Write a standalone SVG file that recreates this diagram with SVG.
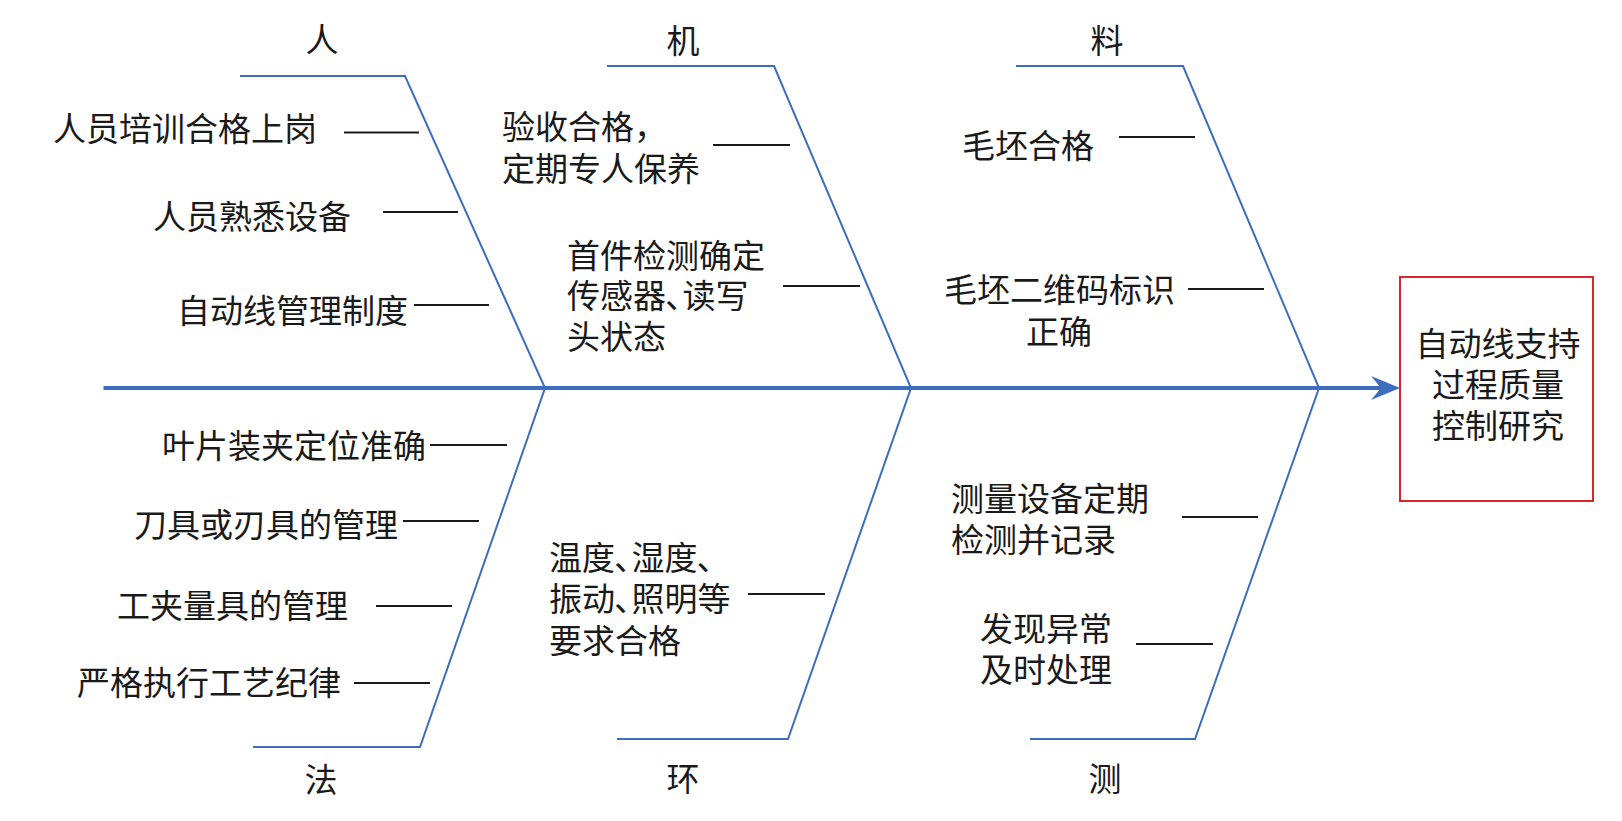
<svg xmlns="http://www.w3.org/2000/svg" width="1622" height="821" viewBox="0 0 1622 821">
<style>
text{font-family:"Liberation Serif","Noto Sans CJK SC",serif;font-size:33px;fill:#1a1a1a;dominant-baseline:central}
.c{text-anchor:middle}
.bone{fill:none;stroke:#3D6DBE;stroke-width:2}
.spine{stroke:#3D6DBE;stroke-width:4}
.tick{stroke:#1a1a1a;stroke-width:2}
</style>
<rect width="1622" height="821" fill="#fff"/>
<g id="connectors">
<line class="spine" x1="103.5" y1="388" x2="1382" y2="388"/>
<polygon points="1400,388 1371,376 1381,388 1371,400" fill="#3D6DBE"/>
<polyline class="bone" points="240,76 405,76 545,388 420,747 253,747"/>
<polyline class="bone" points="607,66 774,66 911,388 788,739 617,739"/>
<polyline class="bone" points="1016,66 1183,66 1319,388 1195,739 1030,739"/>
<line class="tick" x1="344" y1="132.5" x2="419" y2="132.5"/>
<line class="tick" x1="383" y1="212" x2="458" y2="212"/>
<line class="tick" x1="414" y1="305" x2="489" y2="305"/>
<line class="tick" x1="713" y1="145" x2="790" y2="145"/>
<line class="tick" x1="783" y1="286" x2="860" y2="286"/>
<line class="tick" x1="1119" y1="137" x2="1195" y2="137"/>
<line class="tick" x1="1188" y1="289" x2="1264" y2="289"/>
<line class="tick" x1="430" y1="445" x2="507" y2="445"/>
<line class="tick" x1="403" y1="521" x2="479" y2="521"/>
<line class="tick" x1="376" y1="606" x2="452" y2="606"/>
<line class="tick" x1="354" y1="683" x2="430" y2="683"/>
<line class="tick" x1="748" y1="594" x2="825" y2="594"/>
<line class="tick" x1="1182" y1="517" x2="1258" y2="517"/>
<line class="tick" x1="1136" y1="644" x2="1213" y2="644"/>
</g>
<g id="head">
<rect x="1400" y="277" width="193" height="224" fill="none" stroke="#D9262C" stroke-width="2"/>
<text class="c" x="1498" y="345">自动线支持</text>
<text class="c" x="1498" y="386">过程质量</text>
<text class="c" x="1498" y="427">控制研究</text>
</g>
<g id="cat-ren">
<text class="c" x="322" y="41">人</text>
<text x="53" y="130">人员培训合格上岗</text>
<text x="153" y="218">人员熟悉设备</text>
<text x="177" y="312">自动线管理制度</text>
</g>
<g id="cat-ji">
<text class="c" x="683" y="41.5">机</text>
<text x="502" y="128">验收合格，</text>
<text x="502" y="170">定期专人保养</text>
<text x="567" y="257">首件检测确定</text>
<text x="567" y="297">传感器､读写</text>
<text x="567" y="338">头状态</text>
</g>
<g id="cat-liao">
<text class="c" x="1107" y="42">料</text>
<text x="962" y="147">毛坯合格</text>
<text x="944" y="291">毛坯二维码标识</text>
<text class="c" x="1059" y="333">正确</text>
</g>
<g id="cat-fa">
<text class="c" x="321" y="781">法</text>
<text x="162" y="447">叶片装夹定位准确</text>
<text x="134" y="526">刀具或刃具的管理</text>
<text x="117" y="607">工夹量具的管理</text>
<text x="77" y="684">严格执行工艺纪律</text>
</g>
<g id="cat-huan">
<text class="c" x="683" y="780">环</text>
<text x="549" y="559">温度､湿度､</text>
<text x="549" y="600">振动､照明等</text>
<text x="549" y="642">要求合格</text>
</g>
<g id="cat-ce">
<text class="c" x="1105" y="780">测</text>
<text x="951" y="500">测量设备定期</text>
<text x="951" y="541">检测并记录</text>
<text x="980" y="630">发现异常</text>
<text x="980" y="671">及时处理</text>
</g>
</svg>
